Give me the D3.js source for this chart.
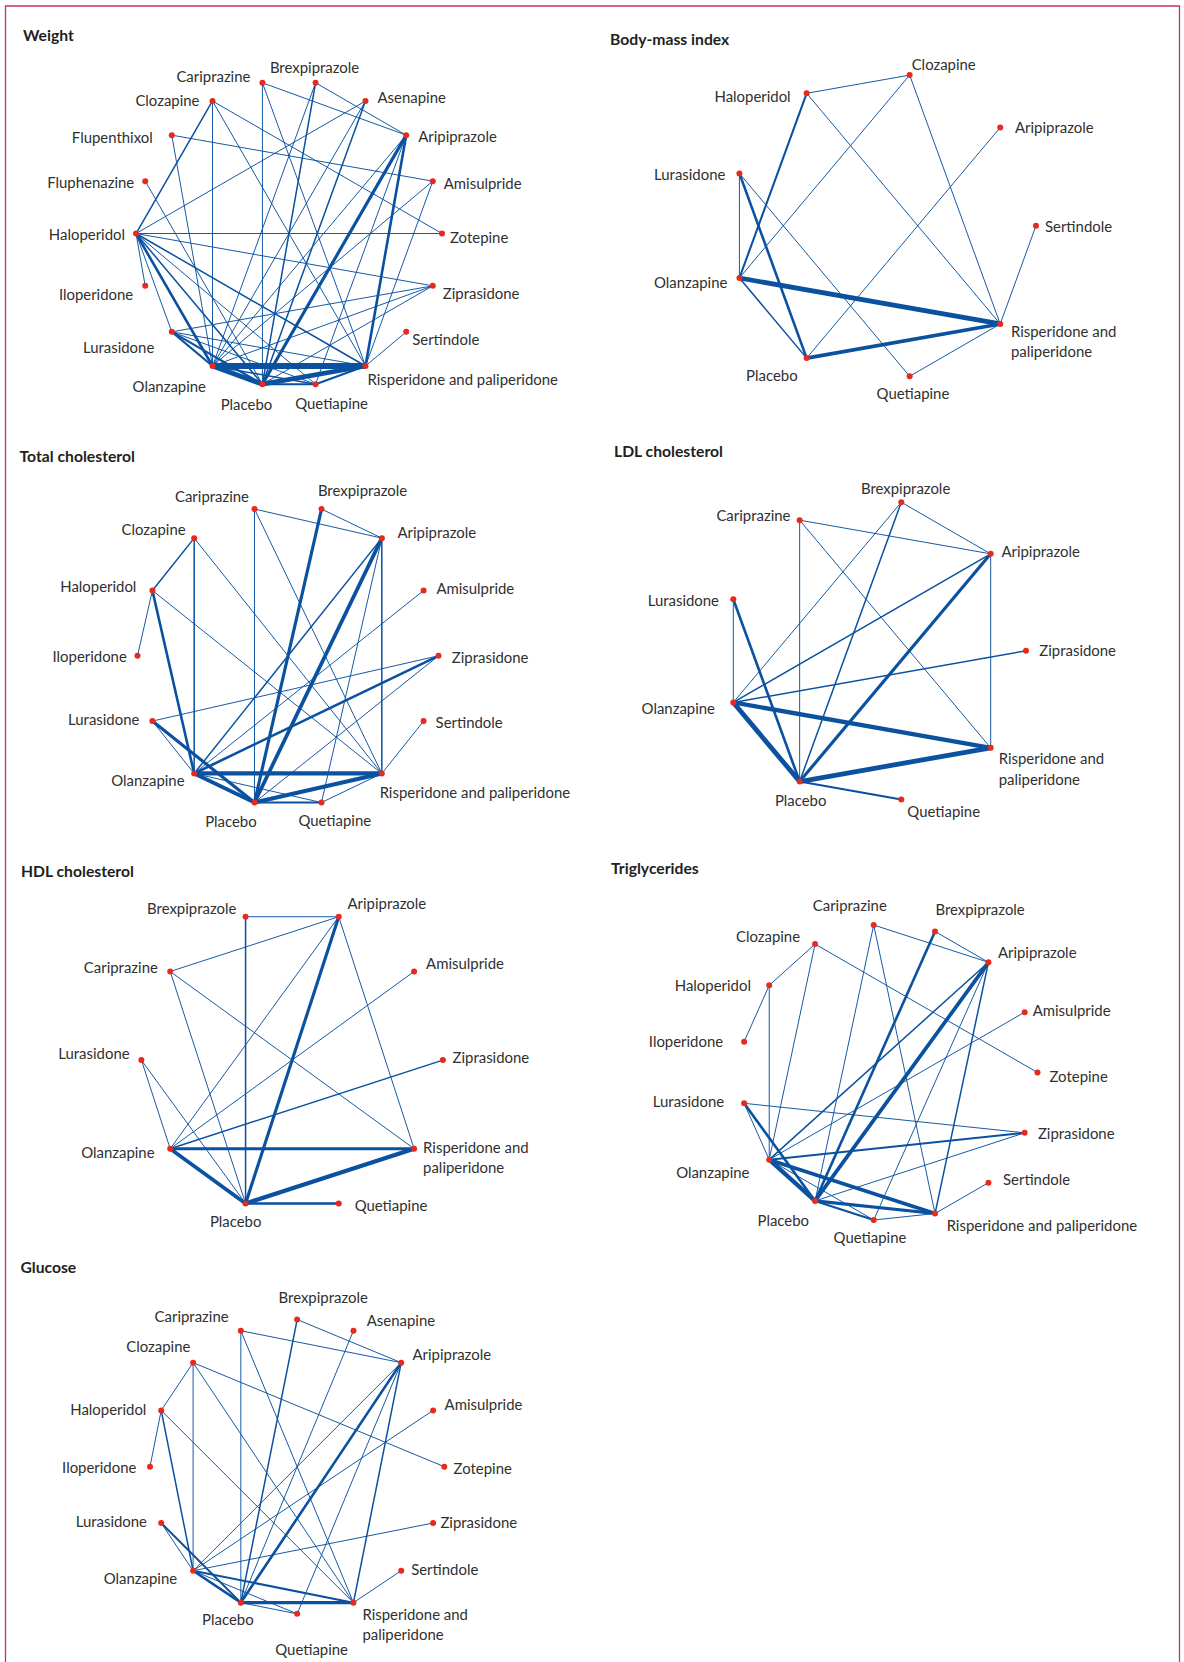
<!DOCTYPE html>
<html><head><meta charset="utf-8">
<script src="https://cdn.jsdelivr.net/npm/d3@7"></script>
<style>
body{margin:0;background:#fff;}
svg text{font-family:Lato,"Noto Sans",sans-serif;}
</style></head><body>
<svg id="chart" width="1184" height="1662"></svg>
<script>
const RIS = "Risperidone and paliperidone";

// ---------- DATA ----------
const weightNodes = ["Amisulpride","Aripiprazole","Asenapine","Brexpiprazole","Cariprazine","Clozapine","Flupenthixol","Fluphenazine","Haloperidol","Iloperidone","Lurasidone","Olanzapine","Placebo","Quetiapine",RIS,"Sertindole","Ziprasidone","Zotepine"];
const weightEdges = [
 ["Cariprazine","Placebo",1],["Cariprazine","Aripiprazole",1],["Cariprazine",RIS,1],
 ["Brexpiprazole","Aripiprazole",1],["Brexpiprazole","Placebo",2],["Brexpiprazole","Olanzapine",1],
 ["Asenapine","Haloperidol",1],["Asenapine","Placebo",2],["Asenapine","Olanzapine",1],
 ["Aripiprazole","Placebo",5],["Aripiprazole",RIS,4],["Aripiprazole","Olanzapine",1],["Aripiprazole","Quetiapine",1],
 ["Amisulpride","Flupenthixol",1],["Amisulpride","Olanzapine",1],["Amisulpride",RIS,1],
 ["Zotepine","Haloperidol",1],["Zotepine","Clozapine",1],
 ["Ziprasidone","Lurasidone",1],["Ziprasidone","Olanzapine",1],["Ziprasidone","Placebo",1],["Ziprasidone","Haloperidol",1],
 ["Sertindole",RIS,1],
 ["Olanzapine",RIS,10],["Placebo",RIS,8],["Quetiapine",RIS,3],["Haloperidol",RIS,2],["Lurasidone",RIS,1],["Clozapine",RIS,1],
 ["Quetiapine","Placebo",3],["Quetiapine","Olanzapine",2],["Quetiapine","Haloperidol",1],["Lurasidone","Quetiapine",1],
 ["Olanzapine","Placebo",8],["Lurasidone","Placebo",3],["Haloperidol","Placebo",2],
 ["Lurasidone","Olanzapine",3],["Haloperidol","Olanzapine",4],["Clozapine","Olanzapine",1],["Flupenthixol","Olanzapine",1],
 ["Haloperidol","Lurasidone",1],["Clozapine","Haloperidol",2],["Haloperidol","Iloperidone",1],["Fluphenazine","Placebo",1]
];

const bmiNodes = ["Aripiprazole","Clozapine","Haloperidol","Lurasidone","Olanzapine","Placebo","Quetiapine",RIS,"Sertindole"];
const bmiEdges = [
 ["Clozapine","Haloperidol",1],["Haloperidol","Olanzapine",3],["Haloperidol",RIS,1],
 ["Clozapine","Olanzapine",1],["Clozapine",RIS,1],["Aripiprazole","Placebo",1],["Sertindole",RIS,1],
 ["Lurasidone","Olanzapine",1],["Lurasidone","Placebo",4],["Lurasidone","Quetiapine",1],
 ["Olanzapine",RIS,8],["Olanzapine","Placebo",2],["Placebo",RIS,6],["Quetiapine",RIS,1]
];

const tcNodes = ["Amisulpride","Aripiprazole","Brexpiprazole","Cariprazine","Clozapine","Haloperidol","Iloperidone","Lurasidone","Olanzapine","Placebo","Quetiapine",RIS,"Sertindole","Ziprasidone"];
const tcEdges = [
 ["Cariprazine","Placebo",1],["Cariprazine","Aripiprazole",1],["Cariprazine",RIS,1],
 ["Brexpiprazole","Aripiprazole",1],["Brexpiprazole","Placebo",5],
 ["Clozapine","Haloperidol",2],["Clozapine","Olanzapine",2],["Clozapine",RIS,1],
 ["Haloperidol","Iloperidone",1],["Haloperidol","Olanzapine",4],["Haloperidol",RIS,1],
 ["Lurasidone","Ziprasidone",1],["Lurasidone","Olanzapine",1],["Lurasidone","Placebo",5],
 ["Aripiprazole",RIS,2],["Aripiprazole","Placebo",6],["Aripiprazole","Olanzapine",2],["Aripiprazole","Quetiapine",1],
 ["Amisulpride","Olanzapine",1],["Ziprasidone","Olanzapine",4],["Ziprasidone","Placebo",1],["Sertindole",RIS,1],
 ["Olanzapine",RIS,7],["Placebo",RIS,7],["Quetiapine",RIS,1],["Olanzapine","Placebo",6],["Olanzapine","Quetiapine",1],["Placebo","Quetiapine",3]
];

const ldlNodes = ["Aripiprazole","Brexpiprazole","Cariprazine","Lurasidone","Olanzapine","Placebo","Quetiapine",RIS,"Ziprasidone"];
const ldlEdges = [
 ["Aripiprazole","Brexpiprazole",1],["Brexpiprazole","Olanzapine",1],["Brexpiprazole","Placebo",2],
 ["Aripiprazole","Cariprazine",1],["Cariprazine","Placebo",1],["Cariprazine",RIS,1],
 ["Aripiprazole","Olanzapine",2],["Aripiprazole","Placebo",5],["Aripiprazole",RIS,1],
 ["Lurasidone","Olanzapine",1],["Lurasidone","Placebo",4],["Olanzapine","Ziprasidone",2],
 ["Olanzapine",RIS,7],["Olanzapine","Placebo",8],["Placebo",RIS,8],["Placebo","Quetiapine",3]
];

const hdlNodes = ["Amisulpride","Aripiprazole","Brexpiprazole","Cariprazine","Lurasidone","Olanzapine","Placebo","Quetiapine",RIS,"Ziprasidone"];
const hdlEdges = [
 ["Aripiprazole","Brexpiprazole",1],["Brexpiprazole","Placebo",2],["Aripiprazole","Cariprazine",1],
 ["Aripiprazole","Olanzapine",1],["Aripiprazole","Placebo",5],["Aripiprazole",RIS,1],
 ["Cariprazine","Placebo",1],["Cariprazine",RIS,1],["Amisulpride","Olanzapine",1],
 ["Olanzapine","Ziprasidone",2],["Lurasidone","Olanzapine",1],["Lurasidone","Placebo",1],
 ["Olanzapine",RIS,5],["Olanzapine","Placebo",6],["Placebo",RIS,7],["Placebo","Quetiapine",4]
];

const tgNodes = ["Amisulpride","Aripiprazole","Brexpiprazole","Cariprazine","Clozapine","Haloperidol","Iloperidone","Lurasidone","Olanzapine","Placebo","Quetiapine",RIS,"Sertindole","Ziprasidone","Zotepine"];
const tgEdges = [
 ["Aripiprazole","Cariprazine",1],["Cariprazine","Placebo",1],["Cariprazine",RIS,1],
 ["Aripiprazole","Brexpiprazole",1],["Brexpiprazole","Placebo",4],
 ["Clozapine","Haloperidol",1],["Clozapine","Zotepine",1],["Clozapine","Olanzapine",1],
 ["Haloperidol","Iloperidone",1],["Haloperidol","Olanzapine",1],
 ["Aripiprazole","Olanzapine",2],["Aripiprazole","Placebo",6],["Aripiprazole",RIS,2],["Aripiprazole","Quetiapine",1],
 ["Amisulpride","Olanzapine",1],["Lurasidone","Ziprasidone",1],["Lurasidone","Olanzapine",1],["Lurasidone","Placebo",4],
 ["Olanzapine","Ziprasidone",3],["Placebo","Ziprasidone",1],["Sertindole",RIS,1],
 ["Olanzapine","Placebo",7],["Olanzapine",RIS,6],["Placebo",RIS,5],["Placebo","Quetiapine",3],["Olanzapine","Quetiapine",1],["Quetiapine",RIS,1]
];

const gluNodes = ["Amisulpride","Aripiprazole","Asenapine","Brexpiprazole","Cariprazine","Clozapine","Haloperidol","Iloperidone","Lurasidone","Olanzapine","Placebo","Quetiapine",RIS,"Sertindole","Ziprasidone","Zotepine"];
const gluEdges = [
 ["Aripiprazole","Brexpiprazole",1],["Brexpiprazole","Placebo",2],
 ["Aripiprazole","Cariprazine",1],["Cariprazine","Placebo",1],["Cariprazine",RIS,1],
 ["Asenapine","Placebo",1],
 ["Clozapine","Haloperidol",1],["Clozapine","Zotepine",1],["Clozapine","Olanzapine",1],["Clozapine",RIS,1],
 ["Haloperidol","Iloperidone",1],["Haloperidol","Olanzapine",2],["Haloperidol",RIS,1],
 ["Aripiprazole","Olanzapine",1],["Aripiprazole","Placebo",4],["Aripiprazole",RIS,2],["Aripiprazole","Quetiapine",1],
 ["Amisulpride","Olanzapine",1],["Olanzapine","Ziprasidone",1],["Lurasidone","Olanzapine",1],["Lurasidone","Placebo",3],
 ["Sertindole",RIS,1],["Olanzapine","Placebo",4],["Olanzapine",RIS,3],["Placebo",RIS,5],["Placebo","Quetiapine",1],["Olanzapine","Quetiapine",1]
];

const panelTitles = ["Weight","Body-mass index","Total cholesterol","LDL cholesterol","HDL cholesterol","Triglycerides","Glucose"];

// ---------- LAYOUT ----------
const layout = [
 {nodes:weightNodes, edges:weightEdges, cx:289, cy:233.5, r:153, start:70, tx:23, ty:35.5, split:false,
  lab:{Cariprazine:["end",-12,-6],Brexpiprazole:["middle",-1,-15],Asenapine:["start",12,-3],Aripiprazole:["start",12,1.5],Amisulpride:["start",11,3],Zotepine:["start",8,4],Ziprasidone:["start",10,7.5],Sertindole:["start",6,8],[RIS]:["start",2,14],Quetiapine:["middle",16,20],Placebo:["middle",-16,21],Olanzapine:["end",-6.5,20.7],Lurasidone:["end",-17.5,16],Iloperidone:["end",-12,8.5],Haloperidol:["end",-11,1.5],Fluphenazine:["end",-11,2],Flupenthixol:["end",-19,2.5],Clozapine:["end",-13,0]}},
 {nodes:bmiNodes, edges:bmiEdges, cx:883.1, cy:225.7, r:152.9, start:50, tx:610, ty:39.3, split:true,
  lab:{Aripiprazole:["start",14.8,0.3],Clozapine:["start",2,-10.7],Haloperidol:["end",-16,3.3],Lurasidone:["end",-14,1.3],Olanzapine:["end",-12,4.7],Placebo:["end",-9,17.7],Quetiapine:["middle",3.3,17.6],[RIS]:["start",10.7,7.7],Sertindole:["start",9,1]}},
 {nodes:tcNodes, edges:tcEdges, cx:288, cy:655.8, r:150.5, start:64.29, tx:19.6, ty:456.7, split:false,
  lab:{Cariprazine:["end",-5.5,-12.4],Brexpiprazole:["start",-3.6,-18.4],Clozapine:["end",-8.5,-8.8],Aripiprazole:["start",15.7,-5.4],Haloperidol:["end",-16,-3.8],Amisulpride:["start",12.8,-1.5],Iloperidone:["end",-10.7,0.9],Ziprasidone:["start",13.3,1.9],Lurasidone:["end",-13,-1],Sertindole:["start",12,1.2],Olanzapine:["end",-9.6,7.5],[RIS]:["start",-2.2,19.5],Quetiapine:["middle",13.3,18.5],Placebo:["middle",-23.6,19.2]}},
 {nodes:ldlNodes, edges:ldlEdges, cx:875.1, cy:650.85, r:150.9, start:50, tx:614, ty:451.7, split:true,
  lab:{Brexpiprazole:["middle",4.3,-13.2],Cariprazine:["end",-9.2,-4.2],Aripiprazole:["start",10.7,-2.2],Lurasidone:["end",-14.3,1.8],Ziprasidone:["start",13.3,0],Olanzapine:["end",-18.3,6.5],[RIS]:["start",8,11],Placebo:["middle",1,19],Quetiapine:["start",6,12.2]}},
 {nodes:hdlNodes, edges:hdlEdges, cx:292.15, cy:1060.1, r:150.75, start:54, tx:21, ty:871.7, split:true,
  lab:{Brexpiprazole:["end",-9.2,-7.7],Aripiprazole:["start",8.8,-12.7],Cariprazine:["end",-12.3,-3.5],Amisulpride:["start",12,-7.5],Lurasidone:["end",-11.8,-6],Ziprasidone:["start",9.6,-2.8],Olanzapine:["end",-15.6,4],[RIS]:["start",9,-1],Placebo:["middle",-9.9,18.2],Quetiapine:["start",15.9,2.5]}},
 {nodes:tgNodes, edges:tgEdges, cx:889.2, cy:1072.5, r:148.3, start:66, tx:611, ty:868.3, split:false,
  lab:{Cariprazine:["middle",-23.9,-19.3],Brexpiprazole:["start",0.4,-21.8],Clozapine:["end",-15,-7],Aripiprazole:["start",9.5,-9.3],Haloperidol:["end",-18.3,0],Amisulpride:["start",8,-1.2],Iloperidone:["end",-21,0],Zotepine:["start",12,4.2],Lurasidone:["end",-20,-1.6],Ziprasidone:["start",13.2,1.2],Olanzapine:["end",-19.7,13],Sertindole:["start",14.6,-2.7],Placebo:["end",-6,20],[RIS]:["start",11.6,12],Quetiapine:["middle",-3.7,18]}},
 {nodes:gluNodes, edges:gluEdges, cx:297.15, cy:1466.7, r:147.15, start:67.5, tx:20.4, ty:1267.7, split:true,
  lab:{Brexpiprazole:["start",-18.6,-21.8],Cariprazine:["end",-12.2,-14],Asenapine:["start",13.3,-9.7],Clozapine:["end",-2.7,-16],Aripiprazole:["start",11.3,-7.6],Haloperidol:["end",-14.8,-0.4],Amisulpride:["start",11.5,-5.4],Iloperidone:["end",-13.6,0.6],Zotepine:["start",9.3,2.3],Lurasidone:["end",-14.2,-1.3],Ziprasidone:["start",7.3,-0.3],Olanzapine:["end",-16,8],Sertindole:["start",10,-1],Placebo:["middle",-13,17],[RIS]:["start",9,11.7],Quetiapine:["middle",14.5,35.5]}}
];

const EDGE = "#0a51a0", DOT = "#e8291e", TXT = "#303030", BORDER = "#c8335e";
const svg = d3.select("#chart");

// calibrate font sizes to the reference text widths
function calib(str, weight, target){
  const t = svg.append("text").attr("font-size",100).attr("font-weight",weight).text(str);
  const w = t.node().getComputedTextLength(); t.remove();
  return 100*target/w;
}
const labelSize = calib("Brexpiprazole","normal",89.4);
const titleSize = calib("Total cholesterol","bold",115.4);

// frame
svg.append("path")
  .attr("d", d3.line()([[5.5,1662],[5.5,6],[1179.5,6],[1179.5,1662]]))
  .attr("fill","none").attr("stroke",BORDER).attr("stroke-width",1.3);

const widthScale = d3.scaleLinear().domain([1,10]).range([0.95,5.9]);

layout.forEach((p,pi)=>{
  const n = p.nodes.length;
  const angle = d3.scaleLinear().domain([0,n]).range([p.start, p.start-360]);
  const pos = new Map();
  p.nodes.forEach((name,i)=>{
    const t = angle(i)*Math.PI/180;
    pos.set(name,[p.cx + p.r*Math.sin(t), p.cy - p.r*Math.cos(t)]);
  });
  const g = svg.append("g");
  g.append("text").attr("x",p.tx).attr("y",p.ty).attr("dy","0.35em")
    .attr("font-size",titleSize).attr("font-weight","bold").attr("fill","#231f20")
    .text(panelTitles[pi]);
  g.selectAll("line.e").data(p.edges.slice().sort((a,b)=>a[2]-b[2])).join("line")
    .attr("class","e")
    .attr("x1",d=>pos.get(d[0])[0]).attr("y1",d=>pos.get(d[0])[1])
    .attr("x2",d=>pos.get(d[1])[0]).attr("y2",d=>pos.get(d[1])[1])
    .attr("stroke",EDGE).attr("stroke-width",d=>widthScale(d[2]));
  g.selectAll("circle").data(p.nodes).join("circle")
    .attr("cx",d=>pos.get(d)[0]).attr("cy",d=>pos.get(d)[1]).attr("r",3)
    .attr("fill",DOT);
  const labs = g.selectAll("text.l").data(p.nodes).join("text").attr("class","l")
    .attr("font-size",labelSize).attr("fill",TXT)
    .attr("text-anchor",d=>p.lab[d][0])
    .attr("x",d=>pos.get(d)[0]+p.lab[d][1])
    .attr("y",d=>pos.get(d)[1]+p.lab[d][2]);
  labs.each(function(d){
    const el = d3.select(this);
    const x = pos.get(d)[0]+p.lab[d][1];
    if (d===RIS && p.split){
      el.append("tspan").attr("x",x).attr("dy","0.35em").text("Risperidone and");
      el.append("tspan").attr("x",x).attr("dy","1.37em").text("paliperidone");
    } else {
      el.attr("dy","0.35em").text(d);
    }
  });
});
</script>
</body></html>
